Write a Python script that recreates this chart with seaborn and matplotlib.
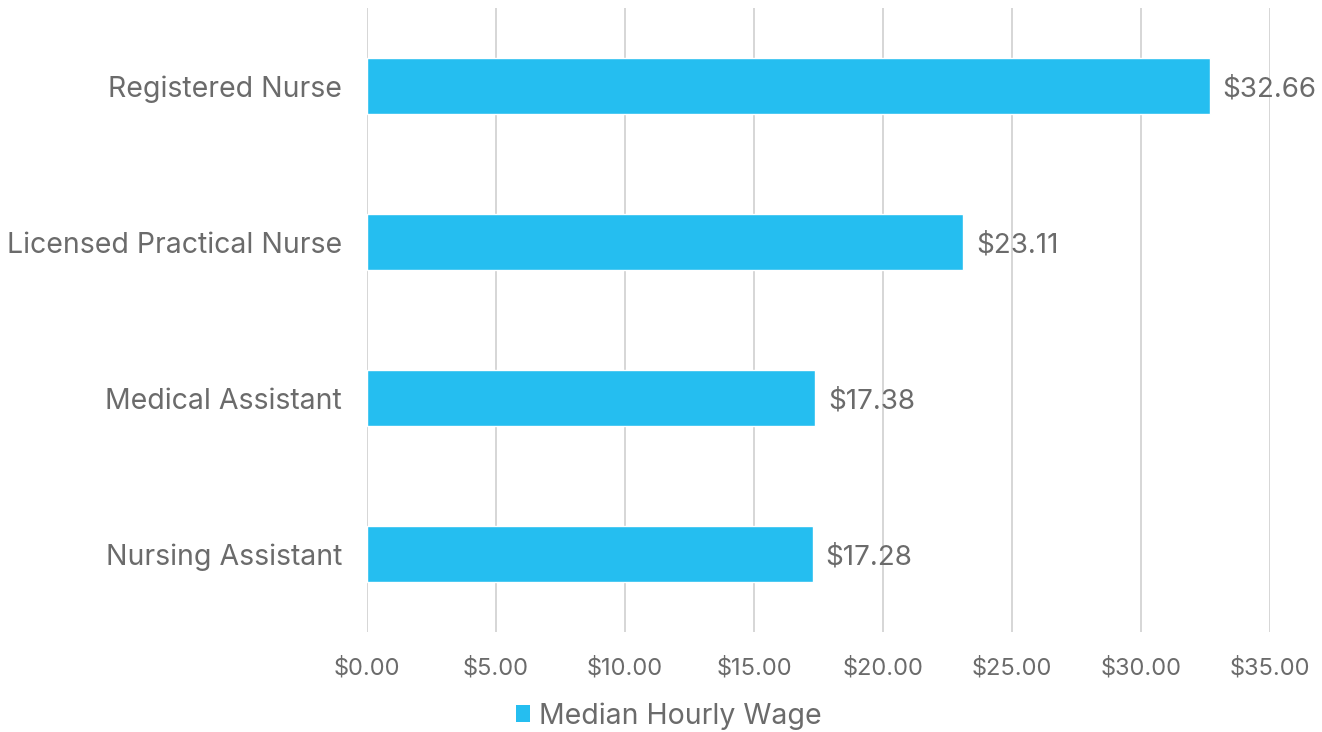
import matplotlib
matplotlib.use("Agg")
import matplotlib.pyplot as plt
import pandas as pd
import seaborn as sns
from matplotlib.patches import Patch

# data
occupations = ["Registered Nurse", "Licensed Practical Nurse", "Medical Assistant", "Nursing Assistant"]
wages = [32.66, 23.11, 17.38, 17.28]
xticks = [0, 5, 10, 15, 20, 25, 30, 35]
series_name = "Median Hourly Wage"

BLUE = "#25BEF0"
GREY = "#6b6b6b"

sns.set_theme(style="white")
plt.rcParams["font.family"] = ["Inter", "DejaVu Sans"]

df = pd.DataFrame({"occupation": occupations, "wage": wages})

fig = plt.figure(figsize=(13.22, 7.32), dpi=100)
ax = fig.add_axes([0.2776, 0.1366, 0.6831, 0.8524])

sns.barplot(data=df, x="wage", y="occupation", color=BLUE, width=0.36,
            saturation=1, ax=ax, zorder=3)

ax.set_xlim(0, 35)
ax.set_ylim(3.5, -0.5)
ax.set_xticks(xticks)
ax.set_xticklabels([f"${v:.2f}" for v in xticks], fontsize=17, color=GREY)
ax.tick_params(axis="y", labelsize=20.5, labelcolor=GREY, length=0, pad=18)
ax.tick_params(axis="x", length=0, pad=18)
ax.grid(axis="x", color="#d0d0d0", linewidth=1.2, zorder=0)
ax.set_xlabel("")
ax.set_ylabel("")
for s in ax.spines.values():
    s.set_visible(False)

# value labels next to the bars
for i, v in enumerate(wages):
    ax.text(v + 0.5, i, f"${v:.2f}", va="center_baseline", ha="left", fontsize=20, color=GREY)

handles = [Patch(facecolor=BLUE, edgecolor="none", label=series_name)]
fig.legend(handles=handles, loc="center", bbox_to_anchor=(0.506, 0.022), frameon=False,
           fontsize=20.5, labelcolor=GREY, handlelength=0.5, handleheight=0.5, handletextpad=0.3,
           borderpad=0)

fig.savefig("out.png", dpi=100)
